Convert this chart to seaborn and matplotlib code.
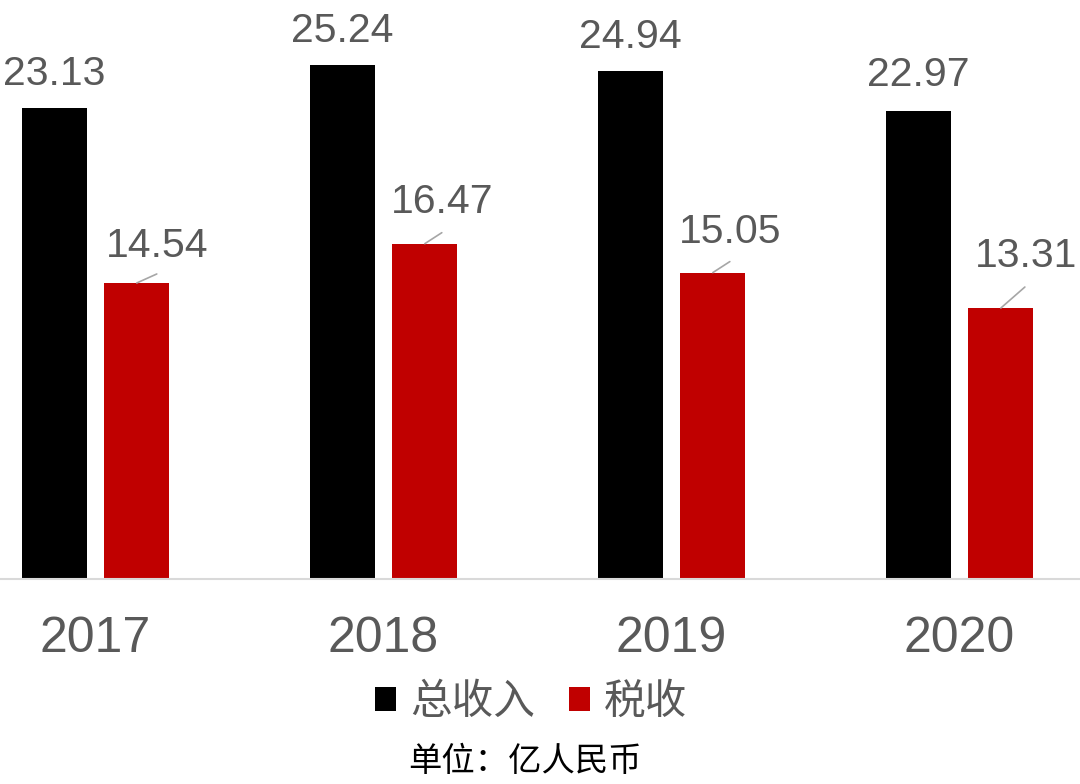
import matplotlib
matplotlib.use("Agg")
import matplotlib.pyplot as plt
import seaborn as sns
import pandas as pd

# ---- data ----
years = ["2017", "2018", "2019", "2020"]
series_names = ["总收入", "税收"]
total_income = [23.13, 25.24, 24.94, 22.97]
tax_income = [14.54, 16.47, 15.05, 13.31]
unit_note = "单位：亿人民币"

# ---- style ----
colors = ["#000000", "#c00000"]
text_gray = "#595959"
# per-label offsets in pixels: (text dx, text baseline dy, line dx, line dy)
red_offsets = [(20, 26, 20, 9), (17, 31, 17, 11), (17, 30, 17, 11), (25, 41, 24, 21)]
black_dy = [23, 23, 23, 25]

sns.set_theme(style="white")
plt.rcParams["font.family"] = ["Liberation Sans", "Noto Sans CJK SC", "DejaVu Sans"]

df = pd.DataFrame({
    "year": years * 2,
    "value": total_income + tax_income,
    "series": [series_names[0]] * len(years) + [series_names[1]] * len(years),
})

fig = plt.figure(figsize=(10.8, 7.84), dpi=100)
ax = fig.add_axes([0, 0.2615, 1, 0.7385])

sns.barplot(data=df, x="year", y="value", hue="series", palette=colors,
            saturation=1, width=0.573, gap=0.21, linewidth=0, ax=ax,
            legend=True)

ax.set_xlim(-0.3316, 3.418)
ax.set_ylim(0, 28.44)
ax.set_xlabel("")
ax.set_ylabel("")
ax.set_yticks([])
for s in ["top", "left", "right"]:
    ax.spines[s].set_visible(False)
ax.spines["bottom"].set_color("#d9d9d9")
ax.spines["bottom"].set_linewidth(1.5)
ax.tick_params(axis="x", length=0, pad=27, labelsize=36, labelcolor=text_gray)

# data labels
containers = ax.containers
for bar, dy in zip(containers[0], black_dy):
    x = bar.get_x() + bar.get_width() / 2
    y = bar.get_height()
    ax.annotate(f"{y:.2f}", xy=(x, y), xytext=(0, dy), textcoords="offset pixels",
                ha="center", va="baseline", fontsize=29.5, color=text_gray,
                annotation_clip=False)
for bar, (tdx, tdy, ldx, ldy) in zip(containers[1], red_offsets):
    x = bar.get_x() + bar.get_width() / 2
    y = bar.get_height()
    ax.annotate(f"{y:.2f}", xy=(x, y), xytext=(tdx, tdy), textcoords="offset pixels",
                ha="center", va="baseline", fontsize=29.5, color=text_gray,
                annotation_clip=False)
    ax.annotate("", xy=(x, y), xytext=(ldx, ldy), textcoords="offset pixels",
                arrowprops=dict(arrowstyle="-", color="#a6a6a6", lw=1.2,
                                shrinkA=0, shrinkB=0),
                annotation_clip=False)

# legend
handles, labels = ax.get_legend_handles_labels()
if ax.get_legend() is not None:
    ax.get_legend().remove()
fig.legend(handles, labels, loc="center", bbox_to_anchor=(0.492, 0.104),
           ncol=2, frameon=False, handlelength=0.5, handleheight=0.5,
           handletextpad=0.35, columnspacing=0.8,
           prop={"family": ["Noto Sans CJK SC"], "size": 30},
           labelcolor=text_gray)

fig.text(0.486, 0.029, unit_note, ha="center", va="center", fontsize=24,
         color="#000000", family=["Noto Sans CJK SC"])

fig.savefig("out.png", dpi=100)
